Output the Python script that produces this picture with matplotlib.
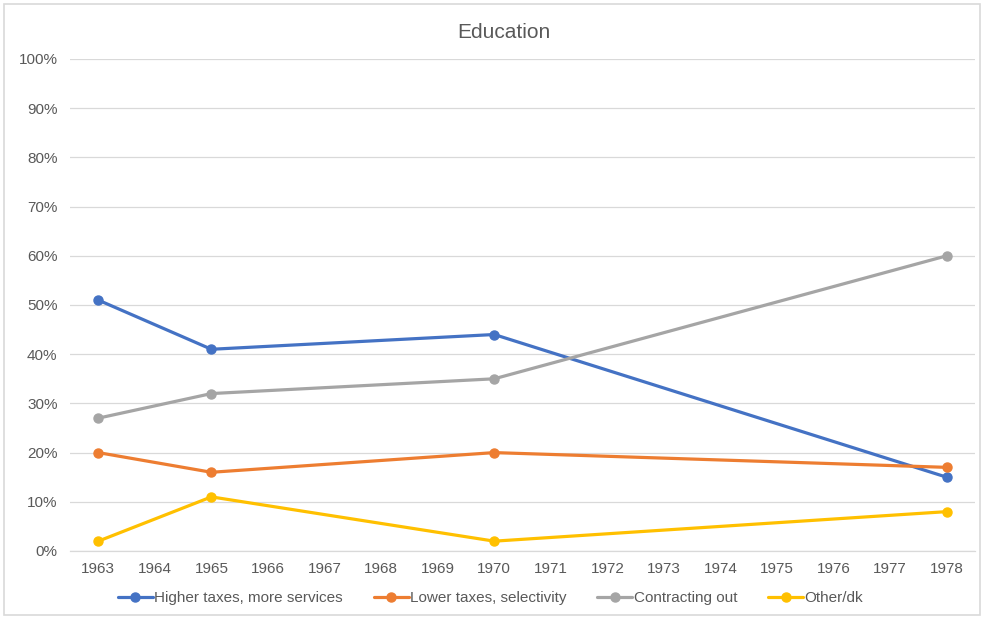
import matplotlib.pyplot as plt
from matplotlib.patches import Rectangle
from matplotlib.ticker import FuncFormatter, MultipleLocator

plt.rcParams["font.family"] = ["Liberation Sans", "DejaVu Sans"]

years = [1963, 1965, 1970, 1978]
higher_taxes = [51, 41, 44, 15]
lower_taxes = [20, 16, 20, 17]
contracting_out = [27, 32, 35, 60]
other_dk = [2, 11, 2, 8]

series = [
    ("Higher taxes, more services", higher_taxes, "#4472C4"),
    ("Lower taxes, selectivity", lower_taxes, "#ED7D31"),
    ("Contracting out", contracting_out, "#A5A5A5"),
    ("Other/dk", other_dk, "#FFC000"),
]

fig = plt.figure(figsize=(9.81, 6.18), dpi=100)
ax = fig.add_axes([70 / 981, 1 - 551 / 618, 905 / 981, 492 / 618])

for label, vals, color in series:
    ax.plot(years, vals, color=color, lw=2.3, marker="o", markersize=6.5, label=label,
            solid_capstyle="round")

ax.set_xlim(1962.5, 1978.5)
ax.set_ylim(0, 100)
ax.set_xticks(range(1963, 1979))
ax.yaxis.set_major_locator(MultipleLocator(10))
ax.yaxis.set_major_formatter(FuncFormatter(lambda v, p: f"{v:.0f}%"))
ax.grid(axis="y", color="#D9D9D9", lw=0.9)
ax.set_axisbelow(True)
for s in ["top", "right", "left"]:
    ax.spines[s].set_visible(False)
ax.spines["bottom"].set_color("#D9D9D9")
ax.spines["bottom"].set_linewidth(0.9)
ax.tick_params(axis="both", length=0, labelsize=11, colors="#595959")
ax.tick_params(axis="x", pad=8)
ax.tick_params(axis="y", pad=9)

fig.text(0.514, 1 - 33 / 618, "Education", ha="center", va="center", fontsize=15, color="#595959")

fig.legend(loc="center", bbox_to_anchor=(0.5, 1 - 598 / 618), ncol=4, frameon=False,
           fontsize=11, handlelength=2.3, columnspacing=2.0, handletextpad=0.1,
           labelcolor="#595959")

fig.patches.append(Rectangle((4 / 981, 3 / 618), 976 / 981, 611 / 618, transform=fig.transFigure,
                             fill=False, edgecolor="#D9D9D9", lw=1.2))

fig.savefig("out.png", dpi=100)
